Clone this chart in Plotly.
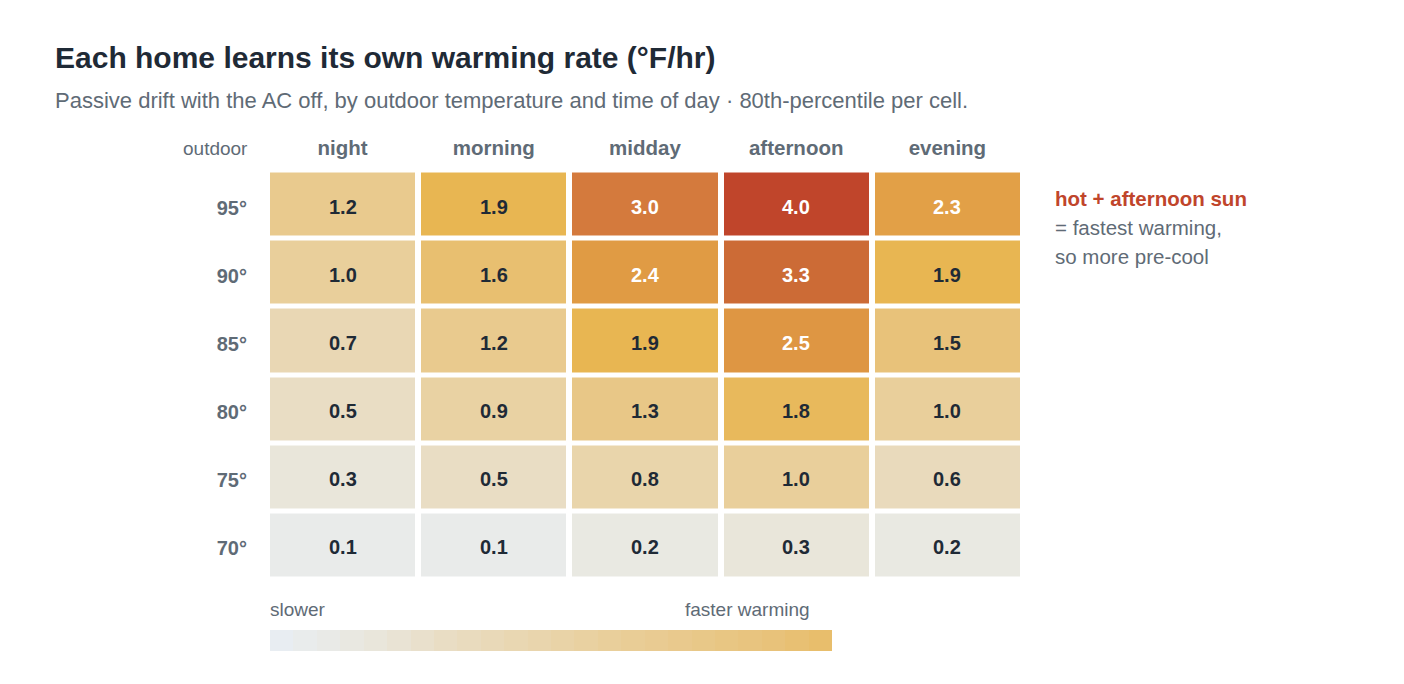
import plotly.graph_objects as go

W, H = 1404, 684

# data
periods = ["night", "morning", "midday", "afternoon", "evening"]
outdoor = ["70°", "75°", "80°", "85°", "90°", "95°"]  # bottom to top
rate_70 = [0.1, 0.1, 0.2, 0.3, 0.2]
rate_75 = [0.3, 0.5, 0.8, 1.0, 0.6]
rate_80 = [0.5, 0.9, 1.3, 1.8, 1.0]
rate_85 = [0.7, 1.2, 1.9, 2.5, 1.5]
rate_90 = [1.0, 1.6, 2.4, 3.3, 1.9]
rate_95 = [1.2, 1.9, 3.0, 4.0, 2.3]
rates = [rate_70, rate_75, rate_80, rate_85, rate_90, rate_95]

legend_steps = list(range(24))

FONT = "Helvetica Neue, Helvetica, Arial, Liberation Sans, sans-serif"
DARK = "#1f2a36"
GREY = "#5f6b76"
RED = "#c0452b"

warm_scale = [
    [0.0, "#e8edf2"],
    [0.025, "#e9ebea"],
    [0.075, "#e9e6da"],
    [0.125, "#e9ddc4"],
    [0.25, "#e9cf9b"],
    [0.375, "#e8c27a"],
    [0.475, "#e8b652"],
    [0.6, "#e09b44"],
    [0.75, "#d47a3d"],
    [0.825, "#cc6b36"],
    [1.0, "#c0452b"],
]

# page body adds 8px around the figure
OFF = 8


def px_x(p):
    return (p - OFF) / W


def px_y(p):
    return 1 - (p - OFF) / H


fig = go.Figure()

fig.add_trace(go.Heatmap(
    z=rates, x=periods, y=outdoor,
    colorscale=warm_scale, zmin=0, zmax=4,
    xgap=6, ygap=5, showscale=False, hoverinfo="skip",
    xaxis="x", yaxis="y",
))

# little legend strip (same scale, only the lower part)
fig.add_trace(go.Heatmap(
    z=[legend_steps], colorscale=warm_scale, zmin=0, zmax=56,
    showscale=False, hoverinfo="skip",
    xaxis="x2", yaxis="y2",
))

annotations = []
for row, label in zip(rates, outdoor):
    for val, period in zip(row, periods):
        annotations.append(dict(
            x=period, y=label, xref="x", yref="y", text=f"{val:.1f}",
            showarrow=False, yshift=-2,
            font=dict(family=FONT, size=20, weight="bold",
                      color="white" if val >= 2.3 else DARK),
        ))


def note(x, y, text, size, color, anchor="left", bold=False):
    # annotations carry ~2px of padding, take it back
    x = x - 2 if anchor == "left" else x + 2
    return dict(x=px_x(x), y=px_y(y), xref="paper", yref="paper",
                xanchor=anchor, yanchor="middle", text=text, showarrow=False,
                font=dict(family=FONT, size=size, color=color,
                          weight="bold" if bold else "normal"))


annotations += [
    note(55, 58, "Each home learns its own warming rate (°F/hr)", 30, DARK, bold=True),
    note(55, 101, "Passive drift with the AC off, by outdoor temperature and time of day · "
                  "80th-percentile per cell.", 22, GREY),
    note(248, 148, "outdoor", 19, GREY, anchor="right"),
    note(1055, 198, "hot + afternoon sun", 20.5, RED, bold=True),
    note(1055, 227, "= fastest warming,", 20.5, GREY),
    note(1055, 256, "so more pre-cool", 20.5, GREY),
    note(270, 609, "slower", 19, GREY),
    note(810, 609, "faster warming", 19, GREY, anchor="right"),
]

fig.update_layout(
    width=W, height=H,
    margin=dict(l=0, r=0, t=0, b=0),
    paper_bgcolor="white", plot_bgcolor="white",
    font=dict(family=FONT, color=GREY),
    annotations=annotations,
    xaxis=dict(domain=[px_x(267), px_x(1023)], side="top", showgrid=False, zeroline=False,
               showline=False, ticks="", ticklabelstandoff=10,
               tickfont=dict(family=FONT, size=20.5, weight="bold", color=GREY)),
    yaxis=dict(domain=[px_y(579.5), px_y(170.5)], showgrid=False, zeroline=False,
               showline=False, ticks="", ticklabelstandoff=19, ticklabelshift=3,
               tickfont=dict(family=FONT, size=20, weight="bold", color=GREY)),
    xaxis2=dict(domain=[px_x(270), px_x(832)], anchor="y2", visible=False),
    yaxis2=dict(domain=[px_y(651), px_y(630)], anchor="x2", visible=False),
)

fig.write_html("out.html")
